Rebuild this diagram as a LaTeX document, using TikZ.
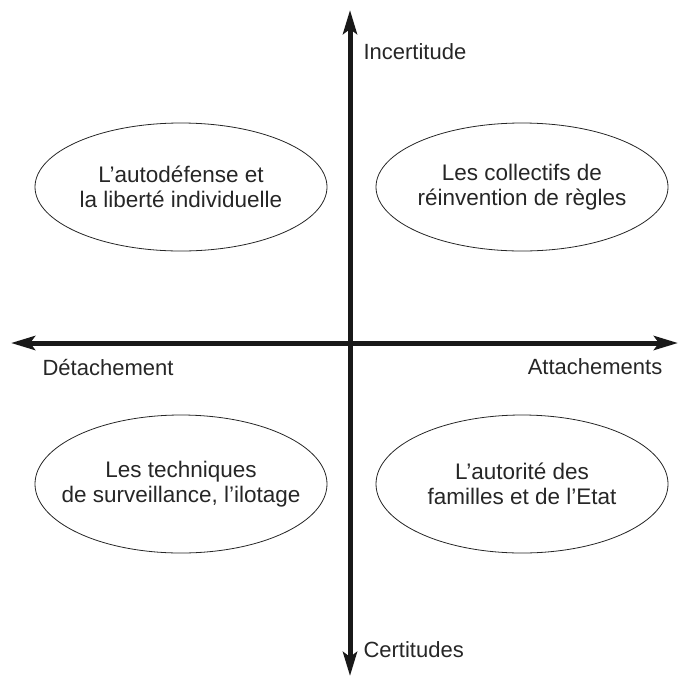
\documentclass[tikz,border=0pt]{standalone}
\usepackage{fontspec}
\setmainfont{Liberation Sans}
\usepackage{tikz}
\usetikzlibrary{arrows.meta,shapes.geometric}

\begin{document}
\begin{tikzpicture}[x=1pt,y=-1pt,
        axis/.style={line width=5pt, black!90, {Stealth[length=24pt,width=14pt,inset=5pt]}-{Stealth[length=24pt,width=14pt,inset=5pt]}},
        quad/.style={ellipse, draw, line width=0.8pt, inner ysep=0pt, inner xsep=-50pt, minimum width=292pt, align=center, font=\fontsize{22.5}{24.5}\selectfont, black!85},
        lbl/.style={font=\fontsize{22}{24}\selectfont, black!85}]
        \useasboundingbox (0,0) rectangle (679,678);

        % Axis end points
        \coordinate (top) at (350,10);
        \coordinate (bottom) at (350,676);
        \coordinate (left) at (11,343);
        \coordinate (right) at (678,343);

        % Axes
        \draw[axis] (bottom) -- (top);
        \draw[axis] (left) -- (right);

        % Axis labels
        \node[lbl, anchor=west] (incert) at (360,52) {Incertitude};
        \node[lbl, anchor=west] (cert) at (360,650) {Certitudes};
        \node[lbl] (detach) at (108,367) {Détachement};
        \node[lbl] (attach) at (595,367) {Attachements};

        % Quadrants
        \node[quad, minimum height=128pt] (autodef) at (181,187) {L’autodéfense et\\la liberté individuelle};
        \node[quad, minimum height=128pt] (collectifs) at (522,187) {Les collectifs de\\réinvention de règles};
        \node[quad, minimum height=138pt] (techniques) at (181,484) {Les techniques\\de surveillance, l’ilotage};
        \node[quad, minimum height=138pt] (autorite) at (522,484) {L’autorité des\\familles et de l’Etat};
\end{tikzpicture}
\end{document}
